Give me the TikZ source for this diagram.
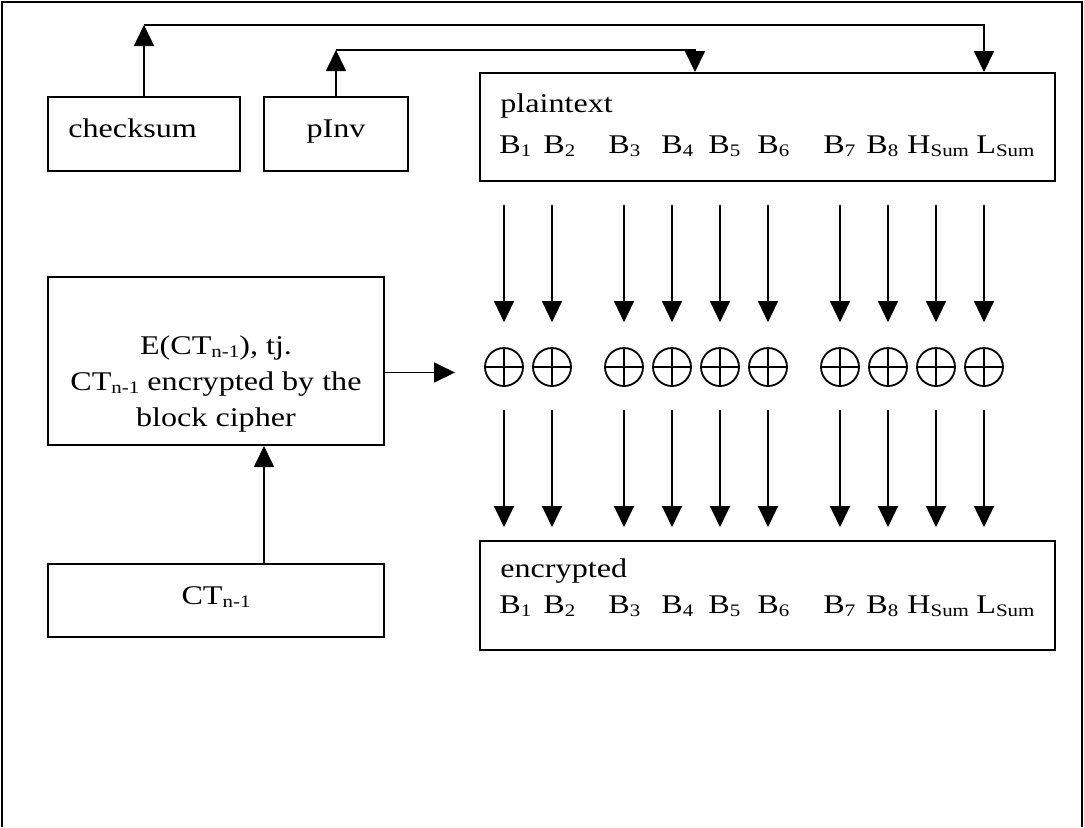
\documentclass[tikz,border=0pt]{standalone}
\usepackage{fontspec}
\setmainfont{Liberation Serif}[FakeStretch=1.19]
\usetikzlibrary{arrows.meta,positioning}
\newcommand{\lowsub}[1]{\raisebox{-0.12em}{\fontsize{8.8}{10}\selectfont #1}}
\tikzset{
  box/.style={draw, line width=1pt, inner sep=0pt},
  arr/.style={-{Triangle[length=10.5pt,width=10pt]}, line width=0.9pt},
  lbl/.style={anchor=base west, inner sep=0pt},
  xorn/.style={circle, draw, line width=0.9pt, minimum size=19pt, inner sep=0pt,
    path picture={\draw[line width=0.9pt] (path picture bounding box.north) -- (path picture bounding box.south)
      (path picture bounding box.west) -- (path picture bounding box.east);}},
}
\begin{document}
\begin{tikzpicture}[x=0.5pt,y=-0.5pt,font=\fontsize{13.5}{18}\selectfont]
	\useasboundingbox (0,0) rectangle (1084,827);
	\draw[line width=1pt] (2,827)--(2,2)--(1082,2)--(1082,827);
	% boxes
	\node[box,minimum width=96pt,minimum height=37pt] (checksum) at (144,134) {};
	\node[box,minimum width=72pt,minimum height=37pt] (pinv) at (336,134) {};
	\node[box,minimum width=287.5pt,minimum height=54pt] (plaintext) at (767.5,127) {};
	\node[box,minimum width=287.5pt,minimum height=54.5pt] (encrypted) at (767.5,595.5) {};
	\node[box,minimum width=168pt,minimum height=84pt] (ebox) at (216,361) {};
	\node[box,minimum width=168pt,minimum height=36.5pt] (ctbox) at (216,600.5) {};
	% texts
	\node[lbl] (cktext) at (68,137) {checksum};
	\node[anchor=base,inner sep=0pt] (pvtext) at (336,137) {pInv};
	\node[lbl] (pttext) at (500,112) {plaintext};
	\node[lbl] (enctext) at (500,577) {encrypted};
	\node[align=center,inner sep=0pt] (etext) at (216,384) {E(CT\lowsub{n-1}), tj.\\CT\lowsub{n-1} encrypted by the\\block cipher};
	\node[anchor=base,inner sep=0pt] (cttext) at (216,604) {CT\lowsub{n-1}};
	\foreach \bx/\bl [count=\i] in {499/B\lowsub{1},543/B\lowsub{2},608/B\lowsub{3},661/B\lowsub{4},708/B\lowsub{5},757/B\lowsub{6},823/B\lowsub{7},866/B\lowsub{8},907/H\lowsub{Sum},976/L\lowsub{Sum}}{
		\node[lbl] (pb\i) at (\bx,153) {\bl};
		\node[lbl] (eb\i) at (\bx,613) {\bl};
	}
	% xor column
	\foreach \cx [count=\i] in {504,552,624,672,720,768,840,888,936,984}{
		\node[xorn] (xo\i) at (\cx,367) {};
		\draw[arr] ([yshift=-11.5pt]plaintext.south -| xo\i) -- ([yshift=12.5pt]xo\i.north);
		\draw[arr] ([yshift=-11.5pt]xo\i.south) -- ([yshift=6.5pt]encrypted.north -| xo\i);
	}
	% top connectors
	\coordinate (ckup) at (144,25);
	\coordinate (cksink) at (984,25);
	\coordinate (pvup) at (336,50);
	\coordinate (pvsink) at (695,50);
	\draw[arr] (checksum) -- (ckup);
	\draw[arr] (ckup) -- (cksink) -- (cksink |- plaintext.north);
	\draw[arr] (pinv) -- (pvup);
	\draw[arr] (pvup) -- (pvsink) -- (pvsink |- plaintext.north);
	% left side
	\coordinate (eout) at (455,372.5);
	\draw[arr] (ebox.east |- eout) -- (eout);
	\draw[arr] ([xshift=24pt]ctbox.north) -- ([xshift=24pt]ebox.south);
\end{tikzpicture}
\end{document}
